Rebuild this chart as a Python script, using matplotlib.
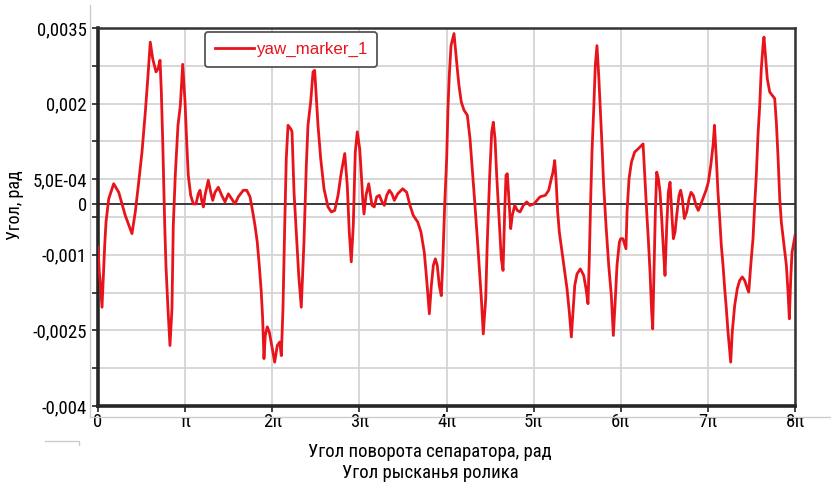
import numpy as np
import matplotlib.pyplot as plt
from matplotlib.lines import Line2D

# angle of separator, in units of pi
x_pi = [0.000, 0.015, 0.026, 0.046, 0.077, 0.092, 0.123, 0.180, 0.238, 0.313,
        0.390, 0.428, 0.467, 0.505, 0.543, 0.574, 0.600, 0.628, 0.666, 0.689,
        0.712, 0.727, 0.743, 0.766, 0.780, 0.803, 0.826, 0.849, 0.864, 0.887,
        0.918, 0.945, 0.972, 0.999, 1.018, 1.036, 1.064, 1.094, 1.125, 1.151,
        1.171, 1.190, 1.209, 1.228, 1.266, 1.294, 1.317, 1.343, 1.381, 1.420,
        1.458, 1.496, 1.535, 1.572, 1.610, 1.668, 1.707, 1.745, 1.776, 1.802,
        1.828, 1.851, 1.874, 1.890, 1.905, 1.920, 1.943, 1.966, 1.994, 2.028,
        2.058, 2.086, 2.104, 2.123, 2.143, 2.161, 2.181, 2.212, 2.227, 2.250,
        2.276, 2.304, 2.333, 2.364, 2.391, 2.410, 2.441, 2.468, 2.487, 2.506,
        2.525, 2.556, 2.594, 2.640, 2.678, 2.717, 2.755, 2.793, 2.832, 2.861,
        2.884, 2.907, 2.930, 2.953, 2.976, 3.004, 3.024, 3.038, 3.053, 3.076,
        3.107, 3.122, 3.145, 3.171, 3.199, 3.229, 3.260, 3.286, 3.314, 3.344,
        3.374, 3.401, 3.440, 3.497, 3.543, 3.581, 3.619, 3.670, 3.707, 3.745,
        3.765, 3.784, 3.803, 3.826, 3.849, 3.872, 3.894, 3.917, 3.940, 3.956,
        3.979, 4.002, 4.017, 4.032, 4.052, 4.086, 4.106, 4.124, 4.143, 4.170,
        4.201, 4.239, 4.270, 4.296, 4.324, 4.354, 4.385, 4.400, 4.422, 4.450,
        4.468, 4.496, 4.519, 4.537, 4.557, 4.576, 4.603, 4.629, 4.649, 4.668,
        4.683, 4.698, 4.718, 4.737, 4.755, 4.783, 4.813, 4.844, 4.882, 4.921,
        4.958, 5.004, 5.073, 5.134, 5.173, 5.203, 5.222, 5.242, 5.257, 5.276,
        5.295, 5.326, 5.357, 5.383, 5.410, 5.433, 5.449, 5.472, 5.498, 5.536,
        5.575, 5.601, 5.624, 5.639, 5.655, 5.670, 5.690, 5.708, 5.727, 5.747,
        5.765, 5.785, 5.804, 5.831, 5.862, 5.892, 5.915, 5.938, 5.957, 5.984,
        6.000, 6.025, 6.060, 6.072, 6.095, 6.123, 6.160, 6.198, 6.256, 6.275,
        6.298, 6.316, 6.336, 6.355, 6.367, 6.385, 6.397, 6.413, 6.432, 6.451,
        6.470, 6.489, 6.508, 6.528, 6.546, 6.566, 6.585, 6.604, 6.623, 6.642,
        6.669, 6.688, 6.707, 6.730, 6.757, 6.784, 6.807, 6.833, 6.864, 6.890,
        6.929, 6.979, 7.005, 7.033, 7.059, 7.076, 7.097, 7.116, 7.136, 7.154,
        7.174, 7.193, 7.212, 7.231, 7.251, 7.262, 7.280, 7.308, 7.338, 7.365,
        7.395, 7.423, 7.453, 7.469, 7.492, 7.518, 7.537, 7.556, 7.575, 7.595,
        7.613, 7.633, 7.644, 7.664, 7.682, 7.710, 7.740, 7.767, 7.786, 7.806,
        7.825, 7.843, 7.874, 7.901, 7.920, 7.935, 7.951, 7.966, 7.981, 8.000]

# yaw angle of the roller, 1e-3 rad
yaw_mrad = [-0.85, -1.34, -1.54, -2.04, -0.81, -0.35, 0.11, 0.41, 0.24, -0.22,
            -0.58, -0.15, 0.44, 1.04, 1.83, 2.56, 3.22, 2.89, 2.63, 2.69,
            2.86, 2.23, 1.24, -0.42, -1.21, -2.07, -2.80, -2.07, -0.42, 0.58,
            1.57, 1.96, 2.78, 2.03, 1.24, 0.58, 0.18, 0.01, 0.01, 0.21,
            0.28, 0.08, -0.05, 0.18, 0.48, 0.24, 0.08, 0.24, 0.34, 0.18,
            0.05, 0.21, 0.11, 0.01, 0.15, 0.28, 0.28, 0.15, -0.15, -0.42,
            -0.75, -1.21, -1.74, -2.27, -3.06, -2.60, -2.43, -2.53, -2.80, -3.13,
            -2.80, -2.73, -3.00, -2.07, -0.42, 0.91, 1.57, 1.50, 1.44, 0.24,
            -0.55, -1.41, -2.04, -0.75, 0.77, 1.57, 2.03, 2.63, 2.66, 2.10,
            1.57, 0.91, 0.31, -0.05, -0.15, -0.12, 0.18, 0.64, 1.01, 0.38,
            -0.55, -1.14, -0.42, 1.04, 1.44, 1.10, 0.55, 0.11, -0.19, 0.18,
            0.41, 0.24, -0.02, -0.05, 0.15, 0.18, 0.05, -0.02, 0.18, 0.28,
            0.21, 0.08, 0.21, 0.31, 0.24, -0.02, -0.22, -0.35, -0.55, -0.95,
            -1.34, -1.74, -2.17, -1.61, -1.21, -1.08, -1.21, -1.61, -1.81, -1.21,
            -0.02, 0.91, 1.90, 2.56, 3.15, 3.39, 3.02, 2.69, 2.36, 2.03,
            1.87, 1.77, 1.30, 0.71, 0.05, -0.68, -1.47, -1.87, -2.57, -1.87,
            -0.75, 0.58, 1.44, 1.63, 1.30, 0.58, -0.28, -1.08, -1.31, -0.15,
            0.58, 0.61, 0.05, -0.48, -0.22, -0.02, -0.12, -0.15, -0.02, 0.05,
            -0.02, 0.01, 0.15, 0.18, 0.28, 0.51, 0.64, 0.87, 0.51, -0.15,
            -0.55, -0.95, -1.34, -1.67, -2.14, -2.63, -2.20, -1.61, -1.38, -1.28,
            -1.41, -1.67, -1.97, -1.08, 0.11, 1.04, 1.90, 2.76, 3.15, 2.56,
            1.90, 1.17, 0.38, -0.42, -1.21, -1.81, -2.60, -1.87, -1.21, -0.75,
            -0.68, -0.68, -0.88, -0.15, 0.51, 0.84, 1.04, 1.10, 1.20, 0.58,
            -0.15, -0.68, -1.34, -2.14, -2.47, -1.08, -0.15, 0.64, 0.51, 0.24,
            -0.28, -0.88, -1.41, -0.42, 0.24, 0.44, -0.15, -0.68, -0.55, -0.22,
            0.18, 0.28, 0.11, -0.28, -0.15, 0.11, 0.24, 0.18, -0.02, -0.12,
            0.05, 0.28, 0.44, 0.77, 1.17, 1.57, 0.91, 0.24, -0.28, -0.81,
            -1.21, -1.67, -2.07, -2.53, -2.93, -3.13, -2.53, -2.00, -1.67, -1.51,
            -1.44, -1.51, -1.67, -1.74, -1.21, -0.68, -0.02, 0.58, 1.37, 1.96,
            2.69, 3.15, 3.32, 2.89, 2.49, 2.23, 2.16, 2.10, 1.63, 0.91,
            0.11, -0.35, -0.81, -1.21, -1.74, -2.27, -1.47, -0.95, -0.81, -0.62]

x_ticks_pi = [0, 1, 2, 3, 4, 5, 6, 7, 8]
x_tick_labels = ['0', 'π', '2π', '3π', '4π', '5π', '6π', '7π', '8π']
y_grid = [-0.004, -0.00325, -0.0025, -0.00175, -0.001, -0.00025,
          0.0005, 0.00125, 0.002, 0.00275, 0.0035]
y_tick_labels = {-0.004: '-0,004', -0.0025: '-0,0025', -0.001: '-0,001',
                 0.0: '0', 0.0005: '5,0E-04', 0.002: '0,002', 0.0035: '0,0035'}

plt.rcParams['font.family'] = ['Roboto Condensed', 'Liberation Sans Narrow', 'DejaVu Sans']

fig = plt.figure(figsize=(8.31, 4.82), dpi=100)
ax = fig.add_axes([98 / 831, 1 - 406 / 482, 697 / 831, 378 / 482])

x = np.array(x_pi) * np.pi
y = np.array(yaw_mrad) * 1e-3

ax.plot(x, y, color='#e8141c', lw=2.0, label='yaw_marker_1', zorder=3)
ax.axhline(0, color='#3a3a3a', lw=1.4, zorder=2)

ax.set_xlim(0, 8 * np.pi)
ax.set_ylim(-0.004, 0.0035)

ax.set_xticks(np.array(x_ticks_pi) * np.pi)
ax.set_xticklabels(x_tick_labels)
y_ticks = sorted(y_grid + [0.0])
ax.set_yticks(y_ticks)
ax.set_yticklabels([y_tick_labels.get(round(v, 5), '') for v in y_ticks])
ax.tick_params(axis='both', labelsize=13.5, color='#333333', width=1.3, length=4,
               direction='out')
ax.tick_params(axis='y', pad=4)
ax.tick_params(axis='x', pad=1)

ax.grid(True, color='#d4d4d4', lw=1.3)
ax.set_axisbelow(True)
for side in ['left', 'bottom']:
    ax.spines[side].set_linewidth(2.6)
    ax.spines[side].set_color('#262626')
for side in ['top', 'right']:
    ax.spines[side].set_linewidth(1.8)
    ax.spines[side].set_color('#333333')

leg = ax.legend(loc='upper left', bbox_to_anchor=(107 / 697, 0.99), borderaxespad=0,
                frameon=True, fancybox=True, handlelength=2.3, handletextpad=0.1,
                borderpad=0.6,
                prop={'family': ['Liberation Sans', 'DejaVu Sans'], 'size': 12.2})
leg.get_frame().set_edgecolor('#555555')
leg.get_frame().set_linewidth(1.3)
leg.get_frame().set_alpha(1)
for t in leg.get_texts():
    t.set_color('#e8141c')

fig.text(15 / 831, 1 - 205 / 482, 'Угол, рад', rotation=90, ha='center', va='center', fontsize=13)
fig.text(430 / 831, 1 - 452 / 482, 'Угол поворота сепаратора, рад', ha='center', va='center', fontsize=13.5)
fig.text(430 / 831, 1 - 473 / 482, 'Угол рысканья ролика', ha='center', va='center', fontsize=13.5)

# frame remnants of the screenshot
fig.add_artist(Line2D([90 / 831, 90 / 831], [1 - 5 / 482, 1 - 417 / 482], color='#cccccc', lw=1))
fig.add_artist(Line2D([90 / 831, 1.0], [1 - 417 / 482, 1 - 417 / 482], color='#cccccc', lw=1))
fig.add_artist(Line2D([45 / 831, 79 / 831, 79 / 831], [1 - 441 / 482, 1 - 441 / 482, 1 - 445 / 482],
                      color='#cccccc', lw=1))

fig.savefig('out.png', dpi=100)
